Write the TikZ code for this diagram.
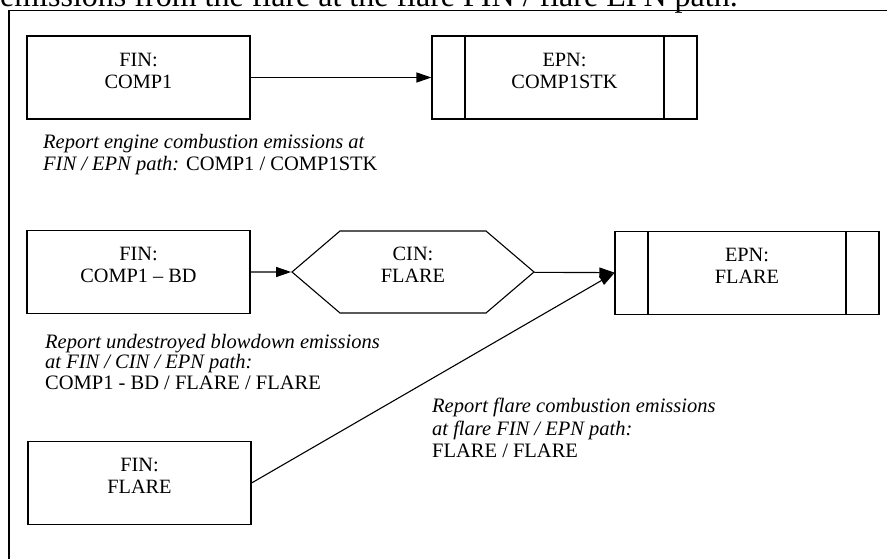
\documentclass[tikz,border=0pt]{standalone}
\usepackage{fontspec}
\setmainfont{Liberation Serif}
\usetikzlibrary{arrows.meta,shapes.symbols}

\tikzset{
  finbox/.style={draw, line width=1.1pt, minimum width=223pt, minimum height=83pt,
    align=center, text depth=14pt, font=\fontsize{20.3}{22}\selectfont},
  epnbox/.style={finbox, minimum width=265pt,
    path picture={\draw[line width=1.1pt]
      ([xshift=33pt]path picture bounding box.north west) -- ([xshift=33pt]path picture bounding box.south west)
      ([xshift=-33pt]path picture bounding box.north east) -- ([xshift=-33pt]path picture bounding box.south east);}},
  cinbox/.style={finbox, signal, signal to=west and east, signal pointer angle=81,
    minimum width=242pt, minimum height=82pt},
  note/.style={anchor=north west, inner sep=0pt, align=left, font=\fontsize{20.5}{22.5}\selectfont},
  flow/.style={-{Triangle[length=15pt,width=10pt]}, line width=1.1pt},
}

\begin{document}
\begin{tikzpicture}[x=1pt, y=-1pt]
    \useasboundingbox (0,0) rectangle (887,559);
    \clip (0,0) rectangle (887,559);

    % heading line and frame
    \node[anchor=base west, inner sep=0pt, font=\fontsize{32}{36}\selectfont] (head) at (0,7)
        {emissions from the flare at the flare FIN / flare EPN path.};
    \draw[line width=1.3pt] (9,10.5) rectangle (900,620);

    % first path
    \node[finbox] (fin1) at (138.5,77.5) {FIN:\\COMP1};
    \node[epnbox] (epn1) at (564.5,77.5) {EPN:\\COMP1STK};
    \draw[flow] (fin1) -- (epn1);
    \node[note] (note1) at (43,134) {\textit{Report engine combustion emissions at}\\\textit{FIN / EPN path:} COMP1 / COMP1STK};

    % blowdown through the flare
    \node[finbox] (fin2) at (138.5,272) {FIN:\\COMP1 -- BD};
    \node[cinbox] (cin) at (413,272) {CIN:\\FLARE};
    \node[epnbox, minimum width=264pt] (epn2) at (747,273) {EPN:\\FLARE};
    \draw[flow] (fin2) -- (cin);
    \draw[flow] (cin) -- (epn2);
    \node[note, font=\fontsize{20.5}{20.5}\selectfont] (note2) at (45,334) {\textit{Report undestroyed blowdown emissions}\\\textit{at FIN / CIN / EPN path:}\\COMP1 - BD / FLARE / FLARE};

    % flare itself
    \node[finbox] (fin3) at (139.5,483) {FIN:\\FLARE};
    \draw[flow] (fin3.east) -- (epn2.west);
    \node[note] (note3) at (432,398) {\textit{Report flare combustion emissions}\\\textit{at flare FIN / EPN path:}\\FLARE / FLARE};
\end{tikzpicture}
\end{document}
